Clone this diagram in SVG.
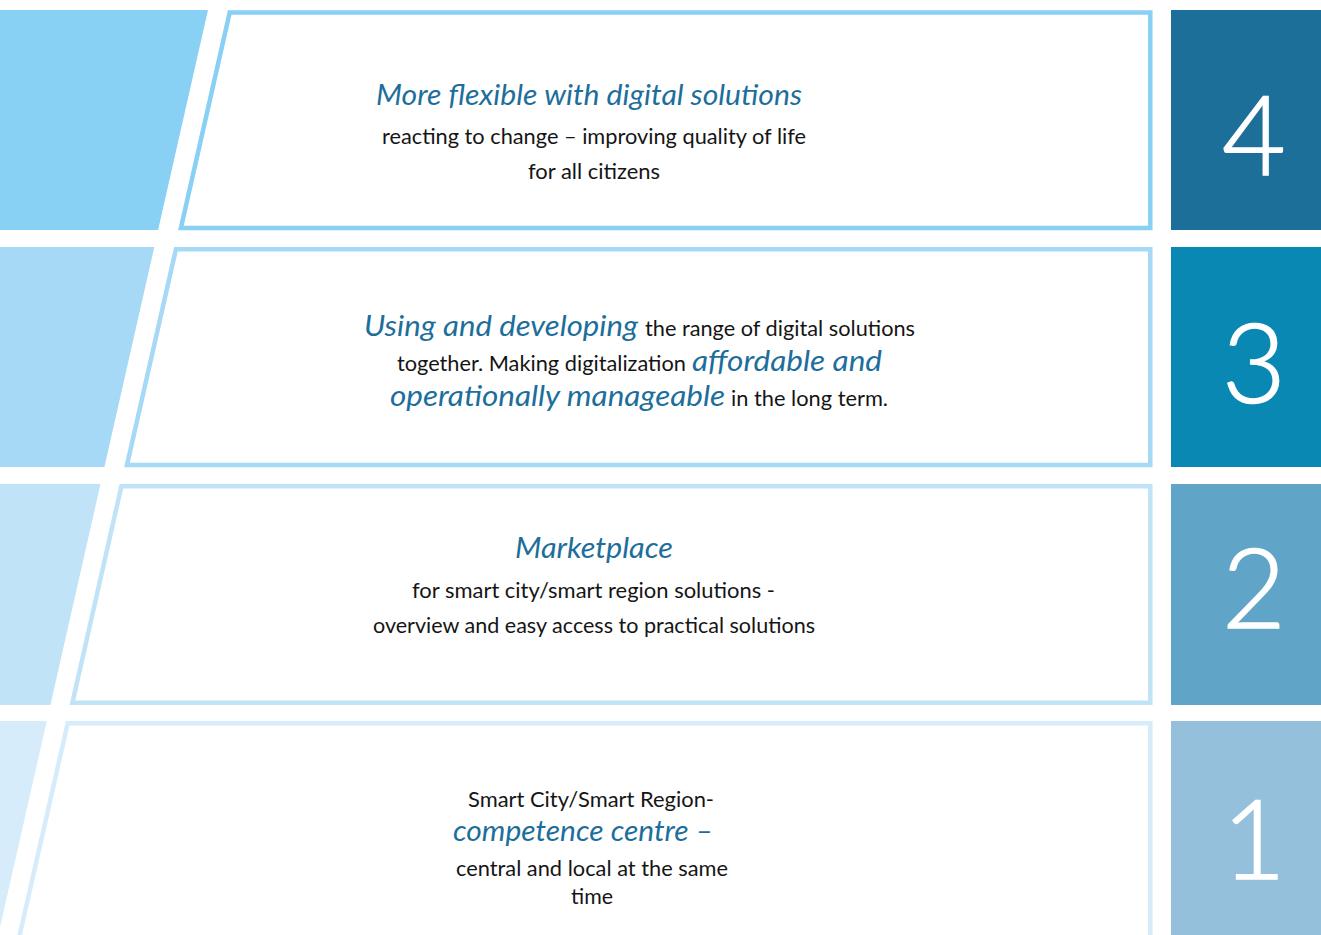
<svg xmlns="http://www.w3.org/2000/svg" width="1321" height="935" viewBox="0 0 1321 935">
  <style>
    .body { font-family: Lato, "Open Sans", "Liberation Sans", sans-serif; font-size: 21px; fill: #151515; }
    .hl { font-family: Lato, "Open Sans", "Liberation Sans", sans-serif; font-style: italic; font-size: 29px; fill: #1d6e9b; }
    .num { font-family: Lato, "Open Sans", "Liberation Sans", sans-serif; font-weight: 300; font-size: 110px; fill: #ffffff; stroke: #ffffff; stroke-width: 1.6; text-anchor: middle; }
    .frame { fill: #ffffff; stroke-width: 4.5; }
  </style>

  <!-- Level 4 -->
  <g id="level4">
    <polygon points="0,10 208,10 158.1,230 0,230" fill="#88d0f4"/>
    <polygon class="frame" stroke="#88d0f4" points="229.7,12.5 1150.3,12.5 1150.3,228 180.9,228"/>
    <rect x="1171" y="10" width="150" height="220" fill="#1b6f99"/>
    <text class="num" x="1254" y="175">4</text>
    <text class="hl" x="376" y="105" textLength="426" lengthAdjust="spacingAndGlyphs">More flexible with digital solutions</text>
    <text class="body" x="382" y="144" textLength="424" lengthAdjust="spacingAndGlyphs">reacting to change – improving quality of life</text>
    <text class="body" x="528" y="179" textLength="132" lengthAdjust="spacingAndGlyphs">for all citizens</text>
  </g>

  <!-- Level 3 -->
  <g id="level3">
    <polygon points="0,247 154.3,247 104.4,467 0,467" fill="#a5d9f5"/>
    <polygon class="frame" stroke="#a5d9f5" points="175.9,249.3 1150.3,249.3 1150.3,465 127.0,465"/>
    <rect x="1171" y="247" width="150" height="220" fill="#0a88b4"/>
    <text class="num" x="1254" y="403">3</text>
    <text class="hl" x="364" y="336" textLength="274" lengthAdjust="spacingAndGlyphs">Using and developing</text>
    <text class="body" x="645" y="336" textLength="270" lengthAdjust="spacingAndGlyphs">the range of digital solutions</text>
    <text class="body" x="397" y="371" textLength="289" lengthAdjust="spacingAndGlyphs">together. Making digitalization</text>
    <text class="hl" x="692" y="371" textLength="190" lengthAdjust="spacingAndGlyphs">affordable and</text>
    <text class="hl" x="390" y="406" textLength="335" lengthAdjust="spacingAndGlyphs">operationally manageable</text>
    <text class="body" x="731" y="406" textLength="157" lengthAdjust="spacingAndGlyphs">in the long term.</text>
  </g>

  <!-- Level 2 -->
  <g id="level2">
    <polygon points="0,484 100.5,484 50.4,705 0,705" fill="#c0e3f7"/>
    <polygon class="frame" stroke="#c0e3f7" points="121.4,486.3 1150.3,486.3 1150.3,702.7 72.4,702.7"/>
    <rect x="1171" y="484" width="150" height="221" fill="#60a5c8"/>
    <text class="num" x="1254" y="628">2</text>
    <text class="hl" x="515" y="558" textLength="158" lengthAdjust="spacingAndGlyphs">Marketplace</text>
    <text class="body" x="412" y="598" textLength="363" lengthAdjust="spacingAndGlyphs">for smart city/smart region solutions -</text>
    <text class="body" x="373" y="633" textLength="442" lengthAdjust="spacingAndGlyphs">overview and easy access to practical solutions</text>
  </g>

  <!-- Level 1 -->
  <g id="level1">
    <polygon points="0,721 46.8,721 -2,936 0,936" fill="#d6ecfa"/>
    <polygon class="frame" stroke="#d6ecfa" points="67.7,723.3 1150.3,723.3 1150.3,950 16.3,950"/>
    <rect x="1171" y="721" width="150" height="214" fill="#95c0dc"/>
    <text class="num" x="1254" y="879">1</text>
    <text class="body" x="468" y="807" textLength="246" lengthAdjust="spacingAndGlyphs">Smart City/Smart Region-</text>
    <text class="hl" x="453" y="841" textLength="260" lengthAdjust="spacingAndGlyphs">competence centre –</text>
    <text class="body" x="456" y="876" textLength="272" lengthAdjust="spacingAndGlyphs">central and local at the same</text>
    <text class="body" x="571" y="904" textLength="42" lengthAdjust="spacingAndGlyphs">time</text>
  </g>

  <!-- no connectors in this diagram -->
  <g id="connectors"/>
</svg>
